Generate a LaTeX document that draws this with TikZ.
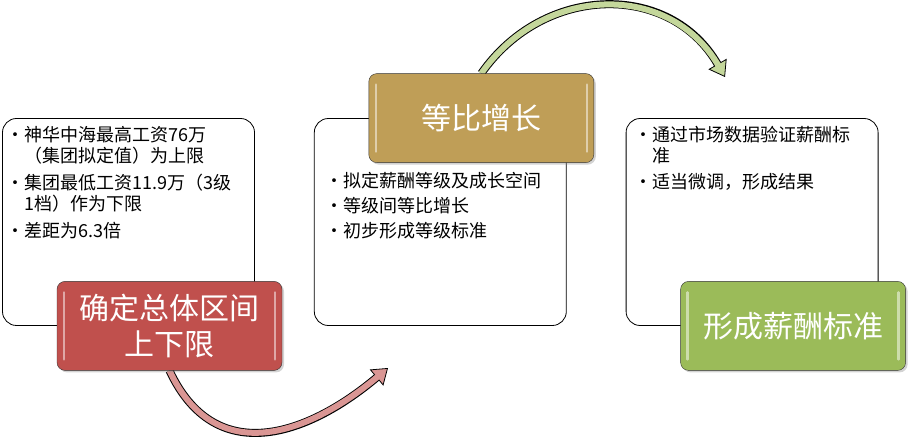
\documentclass[tikz,border=0pt]{standalone}
\usepackage{fontspec}
\setmainfont{Noto Sans CJK SC}
\usetikzlibrary{arrows.meta,positioning,shadows,backgrounds}
\definecolor{rangered}{HTML}{C0504D}
\definecolor{ratiogold}{HTML}{BF9E57}
\definecolor{resultgreen}{HTML}{9BBB59}
\definecolor{redband}{HTML}{DA9694}
\definecolor{greenband}{HTML}{C4D79B}

\begin{document}
\begin{tikzpicture}[
    x=1pt, y=1pt,
    node distance=59pt,
    panel/.style={draw, thick, rounded corners=14pt, fill=white, minimum width=252pt, minimum height=207pt, inner sep=0pt},
    heading/.style={draw=black!80, rounded corners=8pt, fill=#1, minimum width=225pt, minimum height=89pt, inner sep=0pt,
        text=white, align=center, font=\fontsize{30}{36}\selectfont,
        drop shadow={opacity=0.35, shadow xshift=2pt, shadow yshift=-2pt},
        path picture={\draw[white, opacity=0.5, line width=2.5pt, line cap=round]
            ([xshift=7pt,yshift=-11pt]path picture bounding box.north west) -- ([xshift=7pt,yshift=11pt]path picture bounding box.south west)
            ([xshift=-7pt,yshift=-11pt]path picture bounding box.north east) -- ([xshift=-7pt,yshift=11pt]path picture bounding box.south east);}},
    points/.style={anchor=north west, align=left, inner sep=0pt, font=\fontsize{18}{21}\selectfont},
    outline/.style={line width=8pt, black, -{Triangle[length=15pt, width=21pt, line width=0.8pt, fill=#1]}},
    band/.style={line width=6pt, draw=#1, shorten >=13pt}
]
\useasboundingbox (0,0) rectangle (909,436);

% Panels
\node[panel] (rangebox) at (128.5,214) {};
\node[panel, right=of rangebox] (ratiobox) {};
\node[panel, right=of ratiobox] (resultbox) {};

% Headings
\node[heading=rangered] (range) at ([xshift=41pt]rangebox.south) {确定总体区间\\上下限};
\node[heading=ratiogold] (ratio) at ([xshift=41pt]ratiobox.north) {等比增长};
\node[heading=resultgreen] (result) at ([xshift=41pt]resultbox.south) {形成薪酬标准};

% Bullet texts
\node[points] (rangetext) at ([xshift=4pt,yshift=-8pt]rangebox.north west) {%
\textbullet 神华中海最高工资76万\\
\phantom{\textbullet}（集团拟定值）为上限\\[6pt]
\textbullet 集团最低工资11.9万（3级\\
\phantom{\textbullet}1档）作为下限\\[6pt]
\textbullet 差距为6.3倍};
\node[points] (ratiotext) at ([xshift=11pt,yshift=-54pt]ratiobox.north west) {%
\textbullet 拟定薪酬等级及成长空间\\[4pt]
\textbullet 等级间等比增长\\[4pt]
\textbullet 初步形成等级标准};
\node[points] (resulttext) at ([xshift=9pt,yshift=-8pt]resultbox.north west) {%
\textbullet 通过市场数据验证薪酬标\\
\phantom{\textbullet}准\\[5pt]
\textbullet 适当微调，形成结果};

% Arrows
\coordinate (redtip) at (388,68);
\coordinate (greentip) at (725,359);
\begin{scope}[on background layer]
\draw[outline=redband] (range.south) to[out=-65, in=-140, looseness=1.25] (redtip);
\draw[band=redband] (range.south) to[out=-65, in=-140, looseness=1.25] (redtip);
\draw[outline=greenband] (ratio.north) to[out=55, in=120, looseness=1.15] (greentip);
\draw[band=greenband] (ratio.north) to[out=55, in=120, looseness=1.15] (greentip);
\end{scope}

\end{tikzpicture}
\end{document}
